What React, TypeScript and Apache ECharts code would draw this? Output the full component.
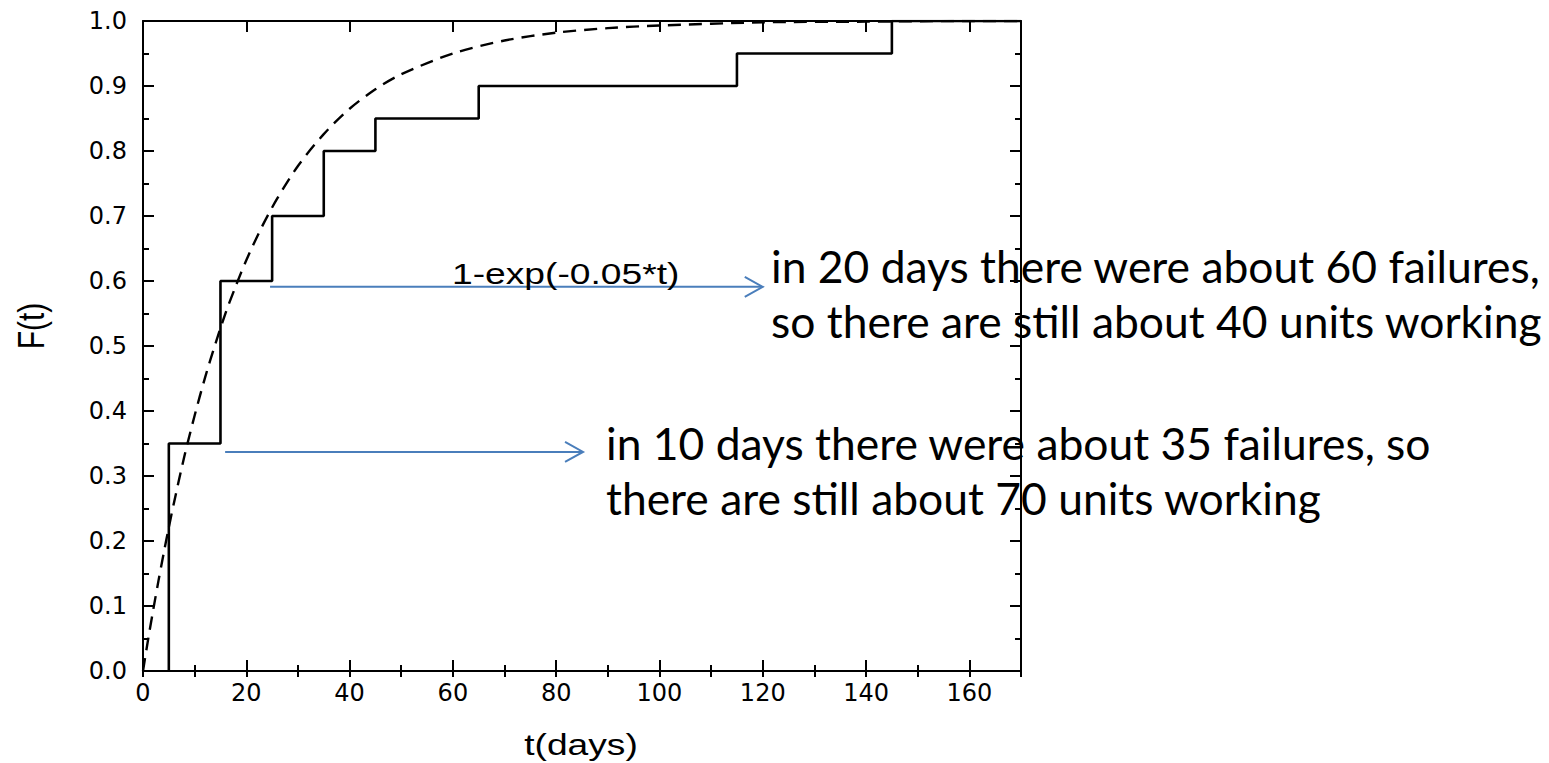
import React, { useEffect, useRef } from 'react';
import * as echarts from 'echarts';

// Empirical failure distribution (step function)
const stepTimes = [5, 5, 15, 25, 35, 45, 65, 115, 145, 170];
const stepValues = [0, 0.35, 0.6, 0.7, 0.8, 0.85, 0.9, 0.95, 1.0, 1.0];

// Dashed fitted curve
const curveTimes = [0, 1, 2, 3, 4, 5, 6, 8, 10, 12, 14, 16, 18, 20, 23, 26, 30, 35, 40, 45, 50, 60, 70, 80, 90, 100, 120, 140, 160, 170];
const curveValues = [0, 0.049, 0.095, 0.139, 0.181, 0.221, 0.259, 0.33, 0.393, 0.451, 0.503, 0.551, 0.593, 0.632, 0.683, 0.727, 0.777, 0.826, 0.865, 0.895, 0.918, 0.95, 0.97, 0.982, 0.989, 0.993, 0.998, 0.999, 1.0, 1.0];

// Annotation arrows (data units)
const arrowStartT = [24.6, 15.9];
const arrowEndT = [120, 85.2];
const arrowF = [0.591, 0.337];

const curveLabel = '1-exp(-0.05*t)';
const xTitle = 't(days)';
const yTitle = 'F(t)';
const note1 = ['in 20 days there were about 60 failures,', 'so there are still about 40 units working'];
const note2 = ['in 10 days there were about 35 failures, so', 'there are still about 70 units working'];

const BLACK = '#000';
const ARROW = '#4A7EBB';
const NOTE_FONT = 'Lato';
const NOTE_SIZE = 44.4;

export default function App() {
  const ref = useRef<HTMLDivElement>(null);

  useEffect(() => {
    const chart = echarts.init(ref.current!, null, { renderer: 'svg' });
    const tickStyle = { color: BLACK, width: 2 };
    const lineAx = { show: true, onZero: false, lineStyle: { color: BLACK, width: 2 } };
    const majorX = (pos: string, labels: boolean) => ({
      type: 'value', position: pos, min: 0, max: 170, interval: 20,
      axisLine: lineAx,
      axisTick: { show: true, inside: true, length: 11, lineStyle: tickStyle },
      axisLabel: {
        show: labels, color: BLACK, fontFamily: 'DejaVu Sans', fontSize: 24, margin: 10,
        showMaxLabel: false, formatter: (v: number) => String(Math.round(v)),
      },
      splitLine: { show: false },
    });
    const minorX = (pos: string) => ({
      type: 'value', position: pos, min: 0, max: 170, interval: 10,
      axisLine: { show: false },
      axisTick: { show: true, inside: true, length: 6, lineStyle: tickStyle },
      axisLabel: { show: false },
      splitLine: { show: false },
    });
    const yAx = (pos: string, labels: boolean) => ({
      type: 'value', position: pos, min: 0, max: 1, interval: 0.1,
      axisLine: lineAx,
      axisTick: { show: true, inside: true, length: 11, lineStyle: tickStyle },
      minorTick: { show: true, splitNumber: 2, length: 6, lineStyle: tickStyle },
      axisLabel: {
        show: labels, color: BLACK, fontFamily: 'DejaVu Sans', fontSize: 24, margin: 16,
        formatter: (v: number) => v.toFixed(1),
      },
      splitLine: { show: false },
      minorSplitLine: { show: false },
    });

    const baseGraphics: any[] = [
      {
        type: 'text', x: 452, y: 273, scaleX: 1.24, z: 10,
        style: { text: curveLabel, fontFamily: 'Liberation Sans', fontSize: 30, fill: BLACK, align: 'left', verticalAlign: 'middle' },
      },
      {
        type: 'text', x: 581, y: 744, scaleX: 1.24, z: 10,
        style: { text: xTitle, fontFamily: 'Liberation Sans', fontSize: 30, fill: BLACK, align: 'center', verticalAlign: 'middle' },
      },
      {
        type: 'text', x: 31, y: 326, scaleY: 1.24, rotation: Math.PI / 2, z: 10,
        style: { text: yTitle, fontFamily: 'Liberation Sans', fontSize: 30, fill: BLACK, align: 'center', verticalAlign: 'middle' },
      },
    ];
    const noteBlocks = [
      { lines: note1, x: 771, baseline: 280 },
      { lines: note2, x: 606, baseline: 457 },
    ];
    noteBlocks.forEach((b) => {
      b.lines.forEach((ln, i) => {
        baseGraphics.push({
          type: 'text', x: b.x, y: b.baseline + i * 55 - NOTE_SIZE * 0.33, z: 10,
          style: { text: ln, fontFamily: NOTE_FONT, fontSize: NOTE_SIZE, fill: BLACK, align: 'left', verticalAlign: 'middle' },
        });
      });
    });

    chart.setOption({
      animation: false,
      backgroundColor: '#fff',
      grid: { left: 143, right: 528, top: 21, bottom: 92, containLabel: false, outerBoundsMode: 'none' },
      xAxis: [majorX('bottom', true), minorX('bottom'), majorX('top', false), minorX('top')],
      yAxis: [yAx('left', true), yAx('right', false)],
      series: [
        {
          type: 'line', xAxisIndex: 0, yAxisIndex: 0, step: 'end', symbol: 'none', z: 3,
          data: stepTimes.map((t, i) => [t, stepValues[i]]),
          lineStyle: { color: BLACK, width: 2.6 },
        },
        {
          type: 'line', xAxisIndex: 0, yAxisIndex: 0, smooth: 0.3, symbol: 'none', z: 2,
          data: curveTimes.map((t, i) => [t, curveValues[i]]),
          lineStyle: { color: BLACK, width: 2.4, type: [13, 8] },
        },
      ],
      graphic: baseGraphics,
    });

    const arrows: any[] = [];
    arrowF.forEach((f, i) => {
      const p0 = chart.convertToPixel({ xAxisIndex: 0, yAxisIndex: 0 }, [arrowStartT[i], f]) as number[];
      const p1 = chart.convertToPixel({ xAxisIndex: 0, yAxisIndex: 0 }, [arrowEndT[i], f]) as number[];
      arrows.push({
        type: 'line', z: 9,
        shape: { x1: p0[0], y1: p0[1], x2: p1[0] - 1, y2: p1[1] },
        style: { stroke: ARROW, lineWidth: 2 },
      });
      arrows.push({
        type: 'polyline', z: 9,
        shape: { points: [[p1[0] - 18, p1[1] - 10], [p1[0], p1[1]], [p1[0] - 18, p1[1] + 10]] },
        style: { stroke: ARROW, lineWidth: 2, fill: 'none' },
      });
    });
    chart.setOption({ graphic: [...baseGraphics, ...arrows] });

    return () => chart.dispose();
  }, []);

  return (
    <div
      ref={ref}
      style={{ position: 'fixed', left: 0, top: 0, width: 1549, height: 763, background: '#fff' }}
    />
  );
}
